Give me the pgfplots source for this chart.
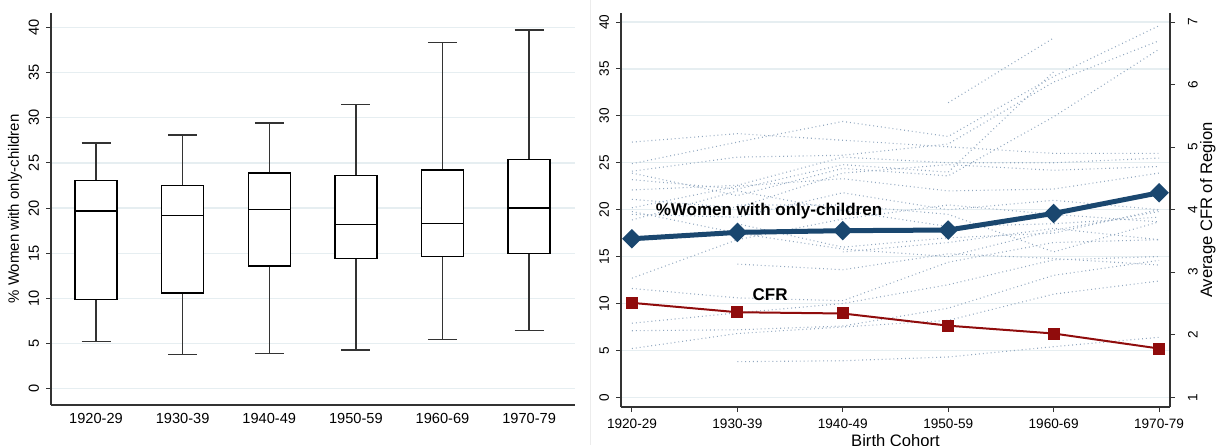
\documentclass[border=0pt]{standalone}
\usepackage{fontspec}
\setmainfont{Liberation Sans}
\usepackage{pgfplots}
\pgfplotsset{compat=1.18}
\usepgfplotslibrary{statistics}
\definecolor{stnavy}{HTML}{1A476F}
\definecolor{stred}{HTML}{900C0C}
\definecolor{gridc}{HTML}{E6EEF1}
\definecolor{regc}{HTML}{92A8C0}
\definecolor{axc}{HTML}{333333}

\pgfplotsset{
  stbase/.style={
    scale only axis,
    anchor=south west,
    axis line style={draw=axc, line width=0.6pt},
    tick style={draw=axc, line width=0.5pt},
    tick align=outside,
    major tick length=2.5pt,
    ymajorgrids, grid style={draw=gridc, line width=0.6pt},
    yticklabel style={rotate=90},
    /pgf/number format/assume math mode=true,
  },
  regline/.style={draw=regc, line width=0.55pt, dash pattern=on 0.45pt off 1.5pt, mark=none},
  bx/.style={draw=black, fill=white, line width=0.7pt},
}

\begin{document}
\begin{tikzpicture}
\path[use as bounding box] (0,0) rectangle (608pt,222.5pt);
\draw[gray!15, line width=0.5pt] (295pt,0) -- (295pt,222.5pt);

% left panel: box plots by cohort
\begin{axis}[stbase,
  at={(25.5pt,20pt)}, width=262pt, height=196pt,
  xmin=-0.52, xmax=5.53, ymin=-1.8, ymax=41.6,
  axis x line*=bottom, axis y line*=left,
  xtick={0,...,5},
  xticklabels={1920-29,1930-39,1940-49,1950-59,1960-69,1970-79},
  xtick style={draw=none},
  xticklabel style={yshift=2pt},
  ytick={0,5,...,40},
  yticklabel style={anchor=south},
  tick label style={font=\fontsize{7.3}{8}\selectfont},
  ylabel={\% Women with only-children},
  ylabel style={font=\fontsize{7.5}{8}\selectfont, at={(axis description cs:-0.0687,0.5)}, anchor=center},
  boxplot/draw direction=y,
  boxplot/box extend=0.485, boxplot/whisker extend=0.335,
  boxplot/every whisker/.style={draw=axc},
]
\addplot[bx, boxplot prepared={draw position=0,
  lower whisker=5.24, lower quartile=9.89, median=19.68, upper quartile=23.07, upper whisker=27.2}] coordinates {};
\addplot[bx, boxplot prepared={draw position=1,
  lower whisker=3.77, lower quartile=10.6, median=19.2, upper quartile=22.5, upper whisker=28.1}] coordinates {};
\addplot[bx, boxplot prepared={draw position=2,
  lower whisker=3.9, lower quartile=13.6, median=19.86, upper quartile=23.9, upper whisker=29.4}] coordinates {};
\addplot[bx, boxplot prepared={draw position=3,
  lower whisker=4.3, lower quartile=14.4, median=18.2, upper quartile=23.6, upper whisker=31.45}] coordinates {};
\addplot[bx, boxplot prepared={draw position=4,
  lower whisker=5.43, lower quartile=14.65, median=18.27, upper quartile=24.2, upper whisker=38.35}] coordinates {};
\addplot[bx, boxplot prepared={draw position=5,
  lower whisker=6.42, lower quartile=15.0, median=20.0, upper quartile=25.4, upper whisker=39.7}] coordinates {};
\end{axis}

% right panel: regional series, mean share and CFR
\begin{axis}[stbase,
  at={(310.5pt,19pt)}, width=274.5pt, height=197pt,
  xmin=-0.104, xmax=5.104, ymin=-1.03, ymax=40.96,
  axis x line*=bottom, axis y line*=left,
  xtick={0,...,5},
  xticklabels={1920-29,1930-39,1940-49,1950-59,1960-69,1970-79},
  ytick={0,5,...,40},
  yticklabel style={anchor=south},
  tick label style={font=\fontsize{6.8}{8}\selectfont},
  xlabel={Birth Cohort},
  xlabel style={font=\fontsize{8.3}{9}\selectfont, at={(axis description cs:0.5,-0.084)}, anchor=center},
]
\addplot[regline] coordinates {(0,27.2) (1,28.1) (2,27.4) (3,26.7) (4,26.0) (5,26.0)};
\addplot[regline] coordinates {(0,24.9) (1,27.2) (2,29.4) (3,27.8) (4,34.2) (5,39.6)};
\addplot[regline] coordinates {(0,24.1) (1,25.6) (2,25.8) (3,27.0) (4,33.6) (5,38.0)};
\addplot[regline] coordinates {(0,23.9) (1,21.5) (2,24.4) (3,23.6) (4,29.9) (5,37.1)};
\addplot[regline] coordinates {(0,23.2) (1,22.2) (2,24.8) (3,24.0) (4,34.7)};
\addplot[regline] coordinates {(0,22.1) (1,22.6) (2,25.6) (3,25.0) (4,25.0) (5,25.5)};
\addplot[regline] coordinates {(0,21.1) (1,20.2) (2,23.9) (3,24.8) (4,24.2) (5,24.6)};
\addplot[regline] coordinates {(0,20.2) (1,22.5) (2,23.3) (3,22.0) (4,22.2) (5,23.9)};
\addplot[regline] coordinates {(0,19.5) (1,19.2) (2,21.8) (3,20.0) (4,21.0) (5,20.0)};
\addplot[regline] coordinates {(0,18.9) (1,22.0) (2,19.9) (3,18.2) (4,18.5) (5,19.2)};
\addplot[regline] coordinates {(0,19.8) (1,17.5) (2,15.8) (3,15.0) (4,17.8) (5,19.8)};
\addplot[regline] coordinates {(0,12.7) (1,16.8) (2,19.0) (3,20.5) (4,19.5) (5,18.7)};
\addplot[regline] coordinates {(0,11.6) (1,10.6) (2,10.3) (3,14.4) (4,16.5) (5,16.8)};
\addplot[regline] coordinates {(0,7.9) (1,9.0) (2,10.0) (3,12.0) (4,14.65) (5,15.0)};
\addplot[regline] coordinates {(0,7.1) (1,7.2) (2,7.6) (3,9.5) (4,13.0) (5,14.6)};
\addplot[regline] coordinates {(0,5.2) (1,6.8) (2,7.5) (3,8.2) (4,11.0) (5,12.4)};
\addplot[regline] coordinates {(1,14.2) (2,13.6) (3,15.3) (4,14.8) (5,14.1)};
\addplot[regline] coordinates {(1,3.8) (2,3.9) (3,4.3) (4,5.4) (5,6.4)};
\addplot[regline] coordinates {(3,31.4) (4,38.3)};
\addplot[regline] coordinates {(1,18.5) (2,16.0) (3,17.0) (4,17.5) (5,20.0)};
\addplot[regline] coordinates {(1,20.5) (2,20.5) (3,19.5) (4,15.5) (5,18.7)};
\addplot[regline] coordinates {(2,15.5) (3,16.5) (4,18.0) (5,16.8)};
\addplot[stnavy, line width=2.5pt, mark=square*, mark size=2.2pt,
  mark options={rotate=45, solid, fill=stnavy}]
  coordinates {(0,16.9) (1,17.58) (2,17.76) (3,17.83) (4,19.6) (5,21.8)};
\node[font=\bfseries\fontsize{8.5}{9}\selectfont] at (axis cs:1.3,19.86) {\%Women with only-children};
\node[font=\bfseries\fontsize{8.5}{9}\selectfont] at (axis cs:1.31,10.9) {CFR};
\end{axis}

\begin{axis}[stbase,
  at={(310.5pt,19pt)}, width=274.5pt, height=197pt,
  xmin=-0.104, xmax=5.104, ymin=0.845, ymax=7.144,
  axis x line=none, axis y line*=right,
  ymajorgrids=false,
  ytick={1,...,7},
  tick label style={font=\fontsize{6.8}{8}\selectfont},
  yticklabel style={anchor=north},
  yticklabel shift=3pt,
  ylabel={Average CFR of Region},
  ylabel style={font=\fontsize{8.3}{9}\selectfont, at={(axis description cs:1.069,0.5)}, anchor=center},
]
\addplot[stred, line width=1pt, mark=square*, mark size=2.5pt, mark options={solid, fill=stred}]
  coordinates {(0,2.51) (1,2.36) (2,2.34) (3,2.145) (4,2.02) (5,1.78)};
\end{axis}
\end{tikzpicture}
\end{document}
